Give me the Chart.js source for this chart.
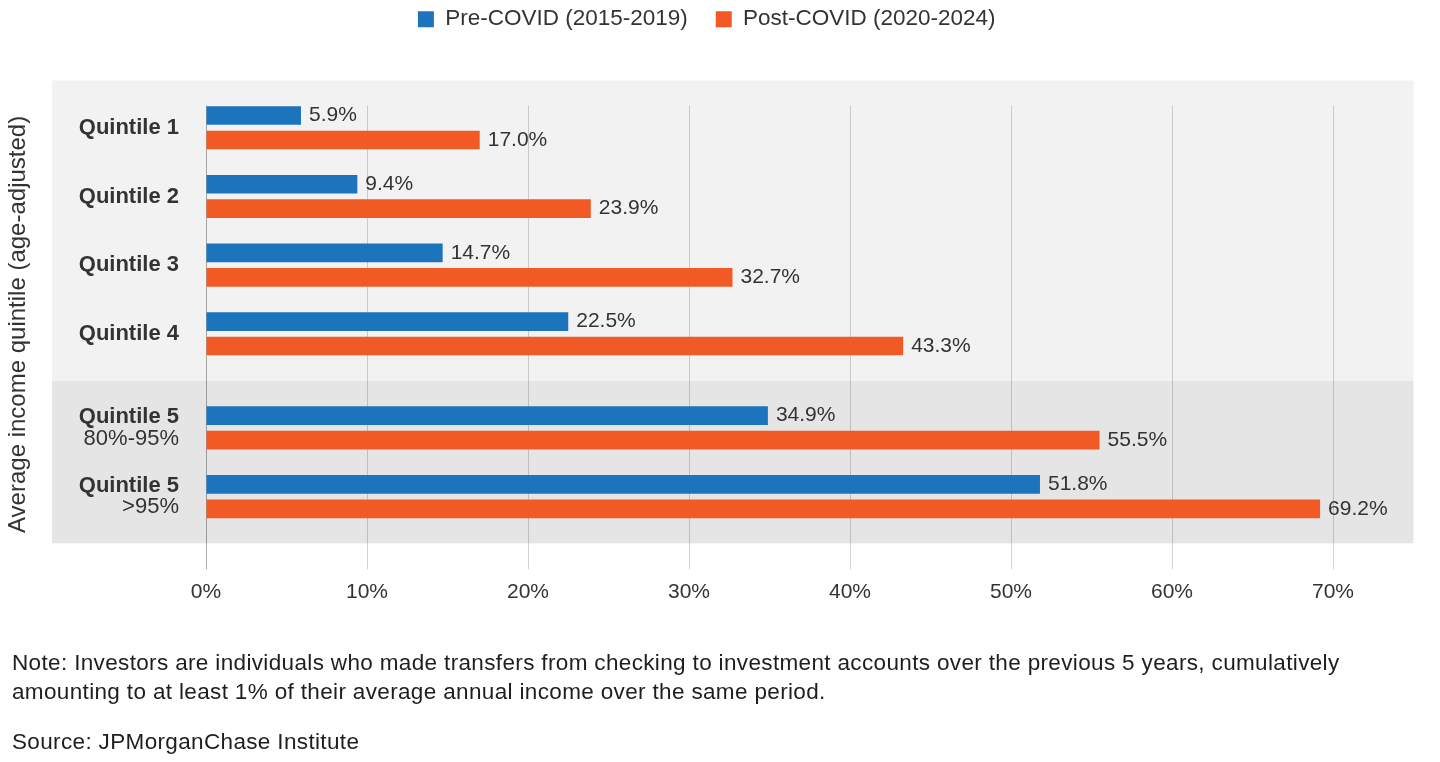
<!DOCTYPE html>
<html>
<head>
<meta charset="utf-8">
<script src="https://cdn.jsdelivr.net/npm/chart.js@4.4.1/dist/chart.umd.min.js"></script>
<style>
  html, body { margin: 0; padding: 0; background: #ffffff; }
  #wrap { position: relative; width: 1440px; height: 762px; overflow: hidden; }
  #wrap canvas { position: absolute; left: 0; top: 0; }
  .note { position: absolute; left: 12px; font-family: 'Liberation Sans', Arial, sans-serif; font-size: 22.5px; letter-spacing: 0.35px; line-height: 29px; color: #1e1e1e; white-space: nowrap; }
</style>
</head>
<body>
<div id="wrap">
  <canvas id="chart"></canvas>
  <div class="note" id="note" style="top:648px"></div>
  <div class="note" id="source" style="top:727px"></div>
</div>
<script>
// ---------------- data ----------------
const categories = [
  ['Quintile 1'],
  ['Quintile 2'],
  ['Quintile 3'],
  ['Quintile 4'],
  ['Quintile 5', '80%-95%'],
  ['Quintile 5', '>95%']
];
const seriesNames = ['Pre-COVID (2015-2019)', 'Post-COVID (2020-2024)'];
const preCovid  = [5.9, 9.4, 14.7, 22.5, 34.9, 51.8];
const postCovid = [17.0, 23.9, 32.7, 43.3, 55.5, 69.2];
const xTicks = [0, 10, 20, 30, 40, 50, 60, 70];
const yAxisTitle = 'Average income quintile (age-adjusted)';
const noteLines = [
  'Note: Investors are individuals who made transfers from checking to investment accounts over the previous 5 years, cumulatively',
  'amounting to at least 1% of their average annual income over the same period.'
];
const sourceText = 'Source: JPMorganChase Institute';
const firstTopGroupIndex = 4; // categories from this index form the shaded second group

// ---------------- styling ----------------
const FONT = "'Liberation Sans', Arial, sans-serif";
const TEXT = '#333333';
const BLUE = '#1c75bc';
const ORANGE = '#f15a24';
Chart.defaults.font.family = FONT;
Chart.defaults.color = TEXT;

// category scale with a wider gap between the two groups
const SEC = { lead: 0.324, gap: 0.37, tail: 0.68 };
class SectionedCategoryScale extends Chart.CategoryScale {
  getPixelForValue(value) {
    if (typeof value !== 'number') value = this.parse(value);
    if (value === null || isNaN(value)) return NaN;
    const n = this.getLabels().length;
    const units = SEC.lead + (n - 1) + SEC.gap + SEC.tail;
    const u = this._length / units;
    return this.top + (SEC.lead + value + (value >= firstTopGroupIndex - 0.5 ? SEC.gap : 0)) * u;
  }
}
SectionedCategoryScale.id = 'sectioned';
SectionedCategoryScale.defaults = Chart.CategoryScale.defaults;
Chart.register(SectionedCategoryScale);

const bandPlugin = {
  id: 'bands',
  beforeDraw(chart) {
    const { ctx, chartArea: a, scales: { y } } = chart;
    const split = (y.getPixelForValue(firstTopGroupIndex - 1) + y.getPixelForValue(firstTopGroupIndex)) / 2;
    const left = a.left - 154, top = a.top - 25;
    ctx.save();
    ctx.fillStyle = '#f2f2f2';
    ctx.fillRect(left, top, a.right - left, split - top);
    ctx.fillStyle = '#e5e5e5';
    ctx.fillRect(left, split, a.right - left, a.bottom - split);
    ctx.restore();
  }
};

const valueLabelPlugin = {
  id: 'valueLabels',
  afterDatasetsDraw(chart) {
    const { ctx } = chart;
    ctx.save();
    ctx.font = '21px ' + FONT;
    ctx.fillStyle = TEXT;
    ctx.textAlign = 'left';
    ctx.textBaseline = 'middle';
    chart.data.datasets.forEach((ds, di) => {
      const meta = chart.getDatasetMeta(di);
      meta.data.forEach((bar, i) => {
        ctx.fillText(ds.data[i].toFixed(1) + '%', bar.x + 8, bar.y);
      });
    });
    ctx.restore();
  }
};

const subLabelPlugin = {
  id: 'subLabels',
  afterDraw(chart) {
    const { ctx, scales: { y } } = chart;
    const lh = 22 * 0.96;
    ctx.save();
    ctx.font = '22px ' + FONT;
    ctx.fillStyle = TEXT;
    ctx.textAlign = 'right';
    ctx.textBaseline = 'middle';
    categories.forEach((c, i) => {
      if (c.length > 1) {
        ctx.fillText(c[1], y.right - 27, y.getPixelForTick(i) + lh / 2);
      }
    });
    ctx.restore();
  }
};

const gridColor = (c) => (c.tick && c.tick.value === 0) ? 'rgba(0,0,0,0.32)' : 'rgba(0,0,0,0.17)';

new Chart(document.getElementById('chart'), {
  type: 'bar',
  data: {
    labels: categories,
    datasets: [
      { label: seriesNames[0], data: preCovid, backgroundColor: BLUE, borderWidth: 0 },
      { label: seriesNames[1], data: postCovid, backgroundColor: ORANGE, borderWidth: 0 }
    ]
  },
  options: {
    indexAxis: 'y',
    responsive: true,
    maintainAspectRatio: false,
    animation: false,
    events: [],
    categoryPercentage: 0.712,
    barPercentage: 0.763,
    layout: { padding: { top: -20, right: 26.5, bottom: 158.7, left: 0 } },
    plugins: {
      tooltip: { enabled: false },
      legend: {
        position: 'top',
        align: 'center',
        labels: { boxWidth: 16, boxHeight: 16, padding: 28, color: TEXT, font: { size: 22.5 } }
      },
      title: {
        display: true,
        text: '',
        weight: 100,
        padding: { top: 26.5, bottom: 26.5 },
        font: { size: 10, lineHeight: 1.2 }
      }
    },
    scales: {
      x: {
        type: 'linear',
        min: 0,
        max: 75,
        bounds: 'data',
        afterBuildTicks: (s) => { s.ticks = xTicks.map(v => ({ value: v })); },
        grid: { color: gridColor, tickColor: gridColor, tickLength: 26, drawTicks: true, lineWidth: 1 },
        border: { display: false },
        ticks: { color: TEXT, font: { size: 21 }, padding: 10, callback: (v) => v + '%' },
        afterFit: (s) => { s.height = 60; }
      },
      y: {
        type: 'sectioned',
        grid: { display: false, drawTicks: false },
        border: { display: false },
        ticks: {
          color: TEXT,
          autoSkip: false,
          padding: 27,
          font: { size: 22, weight: 'bold', lineHeight: 0.96 },
          callback: (v, i) => categories[i].length > 1 ? [categories[i][0], ''] : categories[i][0]
        },
        title: { display: true, text: yAxisTitle, color: TEXT, font: { size: 24 }, padding: { top: 4, bottom: 4 } },
        afterFit: (s) => { s.width = 206; }
      }
    }
  },
  plugins: [bandPlugin, valueLabelPlugin, subLabelPlugin]
});

// notes
const noteEl = document.getElementById('note');
noteLines.forEach((line, i) => {
  if (i > 0) noteEl.appendChild(document.createElement('br'));
  noteEl.appendChild(document.createTextNode(line));
});
document.getElementById('source').textContent = sourceText;
</script>
</body>
</html>
